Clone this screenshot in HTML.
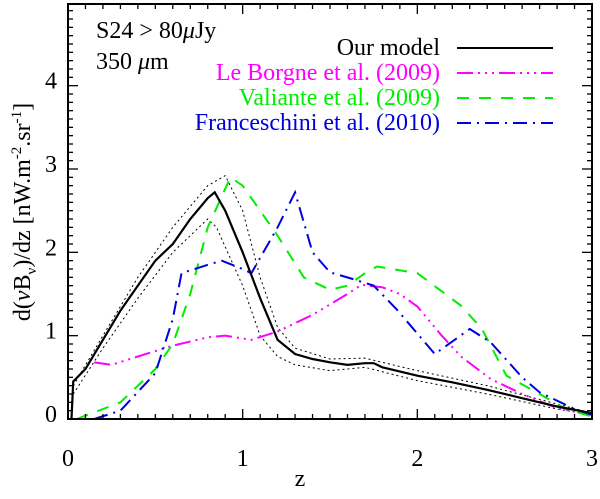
<!DOCTYPE html>
<html><head><meta charset="utf-8"><style>
body{margin:0;background:#fff;}
svg text{font-family:"Liberation Serif",serif;}
</style></head><body>
<svg id="chart" width="600" height="494" xmlns="http://www.w3.org/2000/svg">
<g id="marks"></g>
<rect x="68" y="4" width="524" height="415" fill="none" stroke="#000" stroke-width="2"/>
<g id="ticks"></g>
<text x="96" y="38" font-size="24">S24 &gt; 80<tspan font-style="italic">μ</tspan>Jy</text>
<text x="96" y="69" font-size="24">350 <tspan font-style="italic">μ</tspan>m</text>
<g font-size="24" text-anchor="end">
<text x="440" y="55" fill="#000">Our model</text>
<text x="440" y="80" fill="#ff00ff">Le Borgne et al. (2009)</text>
<text x="440" y="105" fill="#00ee00">Valiante et al. (2009)</text>
<text x="440" y="130" fill="#0000dd">Franceschini et al. (2010)</text>
</g>
<line x1="457" y1="48" x2="553" y2="48" stroke="#000" stroke-width="2"/>
<line x1="457" y1="73" x2="553" y2="73" stroke="#ff00ff" stroke-width="2" stroke-dasharray="16,5,2,5,2,5,2,5"/>
<line x1="457" y1="98" x2="553" y2="98" stroke="#00ee00" stroke-width="2" stroke-dasharray="12,10"/>
<line x1="457" y1="123" x2="553" y2="123" stroke="#0000dd" stroke-width="2" stroke-dasharray="14,6,2,6"/>
<text x="300" y="486" font-size="24" text-anchor="middle">z</text>
<text transform="translate(30,212) rotate(-90)" font-size="24" text-anchor="middle">d(<tspan font-style="italic">ν</tspan>B<tspan font-size="15" dy="6">ν</tspan><tspan dy="-6">)/dz [nW.m</tspan><tspan font-size="15" dy="-9">-2</tspan><tspan dy="9">.sr</tspan><tspan font-size="15" dy="-9">-1</tspan><tspan dy="9">]</tspan></text>
</svg>
<script>
const modelZ=[0.02,0.03,0.1,0.2,0.3,0.4,0.5,0.6,0.7,0.8,0.84,0.9,1.0,1.1,1.2,1.3,1.4,1.5,1.6,1.7,1.75,1.8,2.0,2.2,2.4,2.6,2.8,3.0];
const modelV=[0,0.45,0.6,0.95,1.3,1.6,1.9,2.1,2.4,2.65,2.72,2.5,2.0,1.45,0.95,0.78,0.72,0.68,0.65,0.67,0.67,0.62,0.52,0.44,0.35,0.25,0.15,0.07];
const upperZ=[0.03,0.2,0.4,0.6,0.8,0.9,1.0,1.1,1.2,1.3,1.5,1.7,2.0,2.4,2.8,3.0];
const upperV=[0.4,1.0,1.7,2.3,2.8,2.92,2.5,1.7,1.1,0.85,0.72,0.73,0.58,0.4,0.18,0.07];
const lowerZ=[0.03,0.2,0.4,0.6,0.8,0.85,1.0,1.1,1.2,1.3,1.5,1.7,2.0,2.4,2.8,3.0];
const lowerV=[0.3,0.85,1.45,2.0,2.4,2.3,1.6,1.0,0.75,0.65,0.58,0.62,0.46,0.3,0.12,0.05];
const lbZ=[0.15,0.25,0.4,0.6,0.8,0.9,1.05,1.2,1.4,1.6,1.68,1.8,1.9,2.0,2.14,2.25,2.42,2.6,2.8,3.0];
const lbV=[0.68,0.65,0.75,0.88,0.98,1.0,0.95,1.05,1.25,1.5,1.61,1.58,1.5,1.35,1.0,0.75,0.48,0.3,0.13,0.05];
const valZ=[0.05,0.3,0.5,0.6,0.7,0.8,0.93,1.0,1.2,1.35,1.5,1.6,1.7,1.77,2.0,2.25,2.37,2.51,2.7,2.85,3.0];
const valV=[0.0,0.2,0.6,0.9,1.5,2.3,2.9,2.8,2.2,1.7,1.55,1.6,1.75,1.83,1.75,1.36,1.08,0.52,0.3,0.12,0.03];
const frZ=[0.15,0.3,0.5,0.6,0.65,0.8,0.88,1.0,1.05,1.2,1.3,1.4,1.5,1.63,1.75,1.88,2.1,2.3,2.42,2.6,2.7,2.9,3.0];
const frV=[0.0,0.1,0.55,1.2,1.75,1.85,1.9,1.8,1.75,2.3,2.72,2.0,1.76,1.68,1.6,1.32,0.78,1.08,0.92,0.5,0.32,0.12,0.05];
const xTicks=[0,1,2,3];
const yTicks=[0,1,2,3,4];
const X0=68,X1=592,Y0=419,Y1=4,ZMIN=0,ZMAX=3,VMIN=0,VMAX=4.98;
const sx=z=>X0+(z-ZMIN)/(ZMAX-ZMIN)*(X1-X0);
const sy=v=>Y0-(v-VMIN)/(VMAX-VMIN)*(Y0-Y1);
const NS='http://www.w3.org/2000/svg';
const marks=document.getElementById('marks'),ticks=document.getElementById('ticks');
function line(zs,vs,color,w,dash,name){
  const p=document.createElementNS(NS,'polyline');
  p.setAttribute('points',zs.map((z,i)=>sx(z)+','+sy(vs[i])).join(' '));
  p.setAttribute('fill','none');p.setAttribute('stroke',color);p.setAttribute('stroke-width',w);
  if(dash)p.setAttribute('stroke-dasharray',dash);
  
  
  marks.appendChild(p);
}
line(upperZ,upperV,'#000',1,'2,3','model-upper-bound');
line(lowerZ,lowerV,'#000',1,'2,3','model-lower-bound');
line(lbZ,lbV,'#ff00ff',2,'16,5,2,5,2,5,2,5','le-borgne-line');
line(valZ,valV,'#00ee00',2,'12,10','valiante-line');
line(frZ,frV,'#0000dd',2,'14,6,2,6','franceschini-line');
line(modelZ,modelV,'#000',2.2,null,'our-model-line');
function tk(x1,y1,x2,y2){const l=document.createElementNS(NS,'line');l.setAttribute('x1',x1);l.setAttribute('y1',y1);l.setAttribute('x2',x2);l.setAttribute('y2',y2);l.setAttribute('stroke','#000');l.setAttribute('stroke-width',1.3);ticks.appendChild(l);}
for(let i=0;i<=30;i++){const x=sx(i/10),L=i%10==0?10:5;tk(x,Y0,x,Y0-L);tk(x,Y1,x,Y1+L);}
for(let i=0;i<=49;i++){const y=sy(i/10),L=i%10==0?10:5;tk(X0,y,X0+L,y);tk(X1,y,X1-L,y);}
xTicks.forEach(t=>{const e=document.createElementNS(NS,'text');e.setAttribute('x',sx(t));e.setAttribute('y',466);e.setAttribute('font-size',24);e.setAttribute('text-anchor','middle');e.textContent=t;


ticks.appendChild(e);});
yTicks.forEach(t=>{const e=document.createElementNS(NS,'text');e.setAttribute('x',57);e.setAttribute('y',sy(t)+3);e.setAttribute('font-size',24);e.setAttribute('text-anchor','end');e.textContent=t;


ticks.appendChild(e);});
</script>
</body></html>
